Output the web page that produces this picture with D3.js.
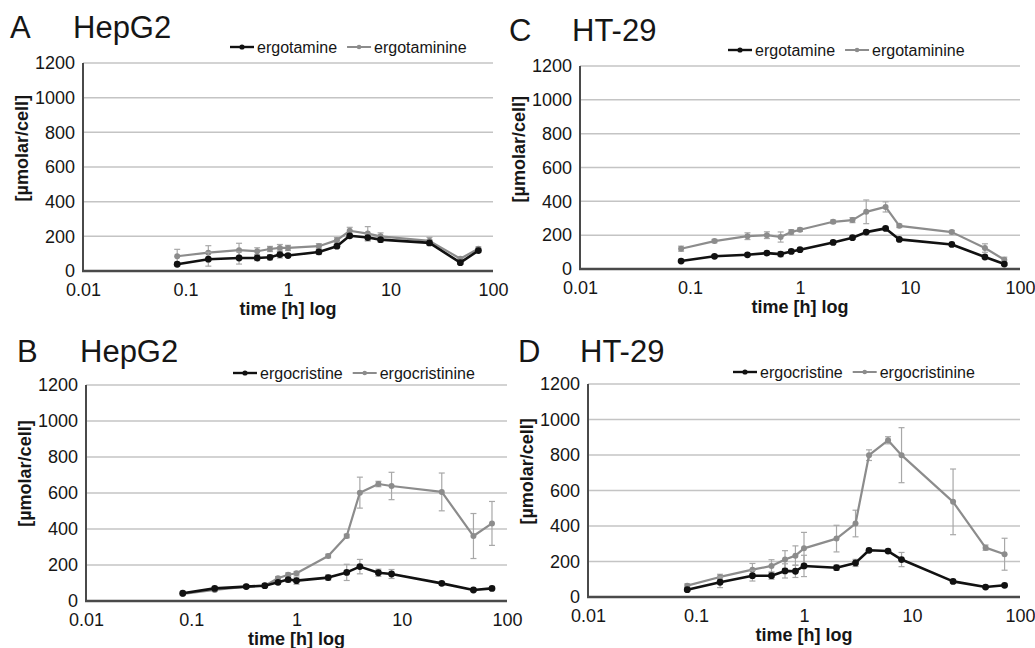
<!DOCTYPE html>
<html>
<head>
<meta charset="utf-8">
<script src="https://cdn.jsdelivr.net/npm/d3@7"></script>
<style>
  body { margin: 0; background: #fff; }
  svg { font-family: "Liberation Sans", Arial, sans-serif; }
</style>
</head>
<body>
<script>
// sampling times in hours
var timeH = [0.083, 0.167, 0.333, 0.5, 0.667, 0.833, 1, 2, 3, 4, 6, 8, 24, 48, 72];
var xTicks = [0.01, 0.1, 1, 10, 100];
var yTicks = [0, 200, 400, 600, 800, 1000, 1200];

// A - HepG2, ergotamine / ergotaminine
var hepErgotamine     = [39, 68, 75, 75, 79, 95, 89, 110, 143, 203, 193, 181, 162, 48, 118];
var hepErgotamineErr  = [10, 40, 35, 15, 15, 20, 10, 15, 10, 10, 20, 15, 15, 10, 10];
var hepErgotaminine   = [85, 106, 120, 114, 127, 133, 133, 143, 178, 232, 216, 200, 174, 71, 129];
var hepErgotaminineErr= [40, 40, 40, 20, 15, 20, 15, 15, 15, 20, 40, 20, 20, 10, 10];

// B - HepG2, ergocristine / ergocristinine
var hepErgocristine     = [43, 70, 80, 85, 104, 119, 113, 130, 159, 191, 157, 150, 98, 61, 70];
var hepErgocristineErr  = [8, 8, 8, 10, 12, 15, 20, 15, 45, 40, 20, 25, 10, 8, 8];
var hepErgocristinine   = [39, 61, 80, 85, 126, 146, 154, 250, 361, 602, 650, 639, 606, 361, 431];
var hepErgocristinineErr= [8, 8, 8, 10, 10, 10, 10, 10, 10, 86, 15, 76, 105, 125, 122];

// C - HT-29, ergotamine / ergotaminine
var htErgotamine     = [47, 75, 84, 94, 88, 104, 114, 157, 185, 218, 240, 175, 145, 71, 29];
var htErgotamineErr  = [8, 8, 8, 10, 15, 10, 8, 8, 10, 10, 10, 8, 8, 10, 8];
var htErgotaminine   = [120, 165, 194, 200, 189, 218, 232, 279, 289, 338, 367, 255, 218, 124, 55];
var htErgotaminineErr= [15, 10, 20, 20, 30, 15, 10, 10, 15, 70, 30, 10, 10, 25, 15];

// D - HT-29, ergocristine / ergocristinine
var htErgocristine     = [41, 83, 120, 120, 147, 145, 175, 165, 192, 263, 259, 211, 88, 56, 66];
var htErgocristineErr  = [8, 30, 30, 20, 40, 35, 60, 15, 20, 10, 10, 40, 10, 8, 8];
var htErgocristinine   = [64, 113, 154, 175, 211, 233, 274, 329, 414, 799, 883, 799, 536, 278, 241];
var htErgocristinineErr= [10, 15, 35, 35, 50, 55, 90, 75, 75, 30, 20, 155, 185, 15, 90];

var W = 1035, H = 648;
var darkCol = "#111", greyCol = "#8c8c8c", errCol = "#a8a8a8", textCol = "#161616";

var svg = d3.select("body").append("svg")
    .attr("width", W)
    .attr("height", H);

var panels = [
  {letter: "A", cell: "HepG2", left: 83, right: 493, top: 63, bottom: 271,
   letterX: 10, nameX: 73, titleY: 38, legX: 230, legY: 47,
   names: ["ergotamine", "ergotaminine"], s1: hepErgotamine, e1: hepErgotamineErr, s2: hepErgotaminine, e2: hepErgotaminineErr},
  {letter: "B", cell: "HepG2", left: 86, right: 507, top: 385, bottom: 601,
   letterX: 17, nameX: 80, titleY: 362, legX: 233, legY: 373,
   names: ["ergocristine", "ergocristinine"], s1: hepErgocristine, e1: hepErgocristineErr, s2: hepErgocristinine, e2: hepErgocristinineErr},
  {letter: "C", cell: "HT-29", left: 580, right: 1020, top: 66, bottom: 269,
   letterX: 509, nameX: 572, titleY: 41, legX: 728, legY: 50,
   names: ["ergotamine", "ergotaminine"], s1: htErgotamine, e1: htErgotamineErr, s2: htErgotaminine, e2: htErgotaminineErr},
  {letter: "D", cell: "HT-29", left: 588, right: 1020, top: 384, bottom: 597,
   letterX: 518, nameX: 580, titleY: 362, legX: 733, legY: 372,
   names: ["ergocristine", "ergocristinine"], s1: htErgocristine, e1: htErgocristineErr, s2: htErgocristinine, e2: htErgocristinineErr}
];

panels.forEach(drawPanel);

function drawPanel(p) {
  var g = svg.append("g");

  var x = d3.scaleLog().domain([0.01, 100]).range([p.left, p.right]);
  var y = d3.scaleLinear().domain([0, 1200]).range([p.bottom, p.top]);

  // gridlines
  g.selectAll(".grid")
    .data(yTicks.slice(1))
    .enter().append("line")
    .attr("x1", p.left).attr("x2", p.right)
    .attr("y1", function(d) { return y(d); })
    .attr("y2", function(d) { return y(d); })
    .attr("stroke", "#c4c4c4")
    .attr("stroke-width", 1.5);

  // axes via d3 axes, ticks hidden
  var yAxis = d3.axisLeft(y).tickValues(yTicks).tickSize(0).tickPadding(8).tickFormat(d3.format("d"));
  var gy = g.append("g").attr("transform", "translate(" + p.left + ",0)").call(yAxis);
  gy.select(".domain").remove();
  gy.selectAll("text").attr("font-size", "18px").attr("fill", textCol)
    .attr("font-family", "Liberation Sans, Arial, sans-serif");

  var xAxis = d3.axisBottom(x).tickValues(xTicks).tickSize(0).tickPadding(12)
    .tickFormat(function(d) { return d < 1 ? String(d) : d3.format("d")(d); });
  var gx = g.append("g").attr("transform", "translate(0," + p.bottom + ")").call(xAxis);
  gx.select(".domain").remove();
  gx.selectAll("text").attr("font-size", "18px").attr("fill", textCol)
    .attr("font-family", "Liberation Sans, Arial, sans-serif");

  // axis lines
  g.append("line").attr("x1", p.left).attr("x2", p.left).attr("y1", p.top).attr("y2", p.bottom + 1)
    .attr("stroke", "#4a4a4a").attr("stroke-width", 2);
  g.append("line").attr("x1", p.left - 1).attr("x2", p.right).attr("y1", p.bottom).attr("y2", p.bottom)
    .attr("stroke", "#4a4a4a").attr("stroke-width", 2.5);

  // axis titles
  g.append("text")
    .attr("x", (p.left + p.right) / 2)
    .attr("y", p.bottom + 44)
    .attr("text-anchor", "middle")
    .attr("font-size", "18px")
    .attr("font-weight", "bold")
    .attr("fill", textCol)
    .text("time [h] log");

  var ty = p.top + (p.bottom - p.top) * 0.41;
  g.append("text")
    .attr("transform", "translate(" + (p.left - 55) + "," + ty + ") rotate(-90)")
    .attr("text-anchor", "middle")
    .attr("font-size", "18px")
    .attr("font-weight", "bold")
    .attr("fill", textCol)
    .text("[µmolar/cell]");

  // panel title
  g.append("text").attr("x", p.letterX).attr("y", p.titleY)
    .attr("font-size", "31px").attr("fill", textCol).text(p.letter);
  g.append("text").attr("x", p.nameX).attr("y", p.titleY)
    .attr("font-size", "31px").attr("fill", textCol).text(p.cell);

  var line = d3.line()
    .x(function(d) { return x(d.t); })
    .y(function(d) { return y(d.v); });

  var series = [
    {vals: p.s2, err: p.e2, col: greyCol, w: 2.2, r: 3},
    {vals: p.s1, err: p.e1, col: darkCol, w: 2.6, r: 3.4}
  ];

  series.forEach(function(s) {
    var pts = timeH.map(function(t, i) { return {t: t, v: s.vals[i], e: s.err[i]}; });

    // error bars
    var eb = g.append("g");
    eb.selectAll(".ev").data(pts).enter().append("line")
      .attr("x1", function(d) { return x(d.t); })
      .attr("x2", function(d) { return x(d.t); })
      .attr("y1", function(d) { return y(d.v + d.e); })
      .attr("y2", function(d) { return y(Math.max(0, d.v - d.e)); })
      .attr("stroke", errCol).attr("stroke-width", 1.2);
    [1, -1].forEach(function(sign) {
      eb.selectAll(".cap" + sign).data(pts).enter().append("line")
        .attr("x1", function(d) { return x(d.t) - 3; })
        .attr("x2", function(d) { return x(d.t) + 3; })
        .attr("y1", function(d) { return y(Math.max(0, d.v + sign * d.e)); })
        .attr("y2", function(d) { return y(Math.max(0, d.v + sign * d.e)); })
        .attr("stroke", errCol).attr("stroke-width", 1.2);
    });

    g.append("path").datum(pts)
      .attr("d", line)
      .attr("fill", "none")
      .attr("stroke", s.col)
      .attr("stroke-width", s.w)
      .attr("stroke-linejoin", "round");

    g.selectAll(null).data(pts).enter().append("circle")
      .attr("cx", function(d) { return x(d.t); })
      .attr("cy", function(d) { return y(d.v); })
      .attr("r", s.r)
      .attr("fill", s.col);
  });

  // legend
  var lg = g.append("g").attr("transform", "translate(" + p.legX + "," + p.legY + ")");
  var cols = [darkCol, greyCol];
  var xPos = 0;
  p.names.forEach(function(name, i) {
    lg.append("line").attr("x1", xPos).attr("x2", xPos + 24).attr("y1", 0).attr("y2", 0)
      .attr("stroke", cols[i]).attr("stroke-width", i === 0 ? 2.4 : 2);
    lg.append("circle").attr("cx", xPos + 12).attr("cy", 0).attr("r", i === 0 ? 2.6 : 2.3).attr("fill", cols[i]);
    var t = lg.append("text").attr("x", xPos + 27).attr("y", 5.5)
      .attr("font-size", "16px").attr("fill", textCol).text(name);
    xPos += 27 + t.node().getComputedTextLength() + 10;
  });
}
</script>
</body>
</html>
